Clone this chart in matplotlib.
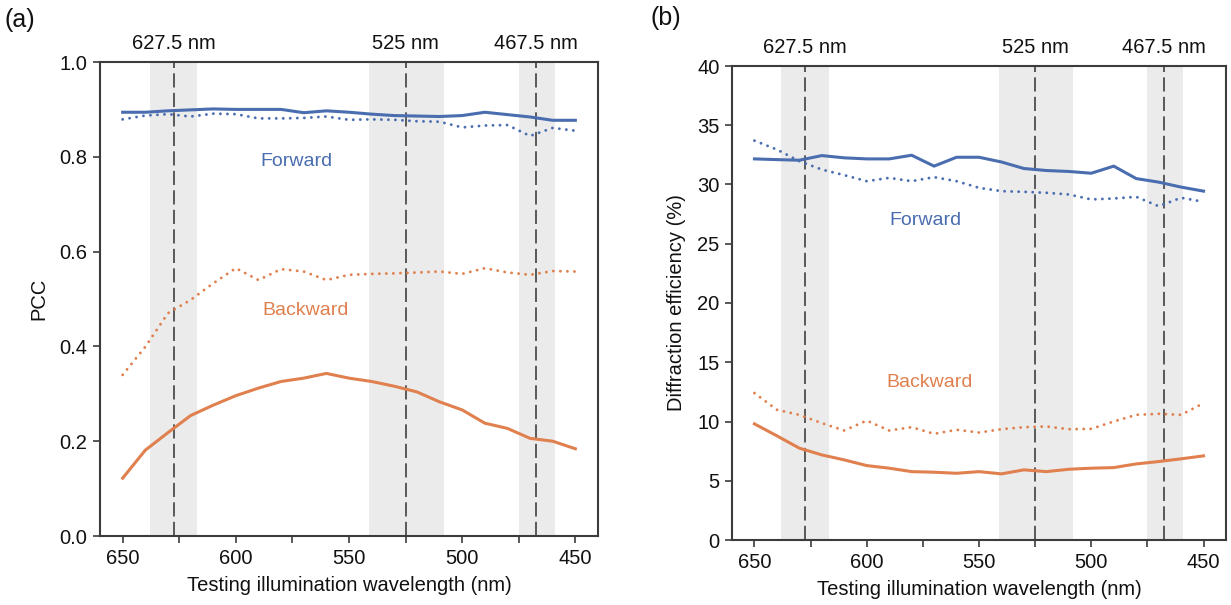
import matplotlib
matplotlib.use("Agg")
import matplotlib.pyplot as plt
import matplotlib.transforms as mtransforms

plt.rcParams['font.family'] = ['Liberation Sans', 'DejaVu Sans']

wavelength = [650, 640, 630, 620, 610, 600, 590, 580, 570, 560, 550,
              540, 530, 520, 510, 500, 490, 480, 470, 460, 450]

# Panel (a): PCC
pcc_fwd_solid = [0.894, 0.894, 0.897, 0.899, 0.901, 0.900, 0.900, 0.900, 0.893, 0.897, 0.894,
                 0.890, 0.887, 0.886, 0.885, 0.887, 0.894, 0.889, 0.884, 0.877, 0.877]
pcc_fwd_dot = [0.879, 0.887, 0.890, 0.885, 0.891, 0.890, 0.881, 0.881, 0.882, 0.885, 0.878,
               0.879, 0.878, 0.875, 0.874, 0.862, 0.866, 0.867, 0.844, 0.861, 0.855]
pcc_bwd_solid = [0.122, 0.181, 0.218, 0.254, 0.276, 0.296, 0.312, 0.326, 0.333, 0.343, 0.333,
                 0.326, 0.316, 0.304, 0.283, 0.266, 0.238, 0.227, 0.206, 0.200, 0.184]
pcc_bwd_dot = [0.340, 0.399, 0.470, 0.498, 0.533, 0.565, 0.540, 0.563, 0.558, 0.540, 0.551,
               0.553, 0.554, 0.556, 0.558, 0.553, 0.565, 0.556, 0.551, 0.559, 0.558]

# Panel (b): Diffraction efficiency (%)
de_fwd_solid = [32.16, 32.10, 32.05, 32.44, 32.25, 32.16, 32.16, 32.47, 31.55, 32.30, 32.30,
                31.90, 31.35, 31.18, 31.10, 30.95, 31.55, 30.50, 30.20, 29.78, 29.44]
de_fwd_dot = [33.70, 32.95, 31.97, 31.26, 30.79, 30.28, 30.56, 30.28, 30.62, 30.28, 29.72,
              29.44, 29.38, 29.30, 29.16, 28.74, 28.82, 28.96, 28.17, 28.88, 28.54]
de_bwd_solid = [9.80, 8.79, 7.75, 7.18, 6.76, 6.28, 6.06, 5.77, 5.72, 5.63, 5.77,
                5.58, 5.92, 5.77, 5.97, 6.06, 6.11, 6.42, 6.62, 6.85, 7.10]
de_bwd_dot = [12.40, 10.99, 10.56, 9.86, 9.24, 10.08, 9.24, 9.52, 8.96, 9.30, 9.07,
              9.35, 9.52, 9.58, 9.35, 9.38, 10.00, 10.56, 10.65, 10.56, 11.55]

marker_lines = [627.5, 525, 467.5]
marker_labels = ['627.5 nm', '525 nm', '467.5 nm']
bands = [(638, 617), (541, 508), (475, 459)]

blue = '#4a6db0'
orange = '#e0804e'
spine_col = '#3c3c3c'

fig = plt.figure(figsize=(12.31, 6.05), dpi=100)
ax1 = fig.add_axes([100 / 1231, 69 / 605, 498 / 1231, 474 / 605])
ax2 = fig.add_axes([732 / 1231, 65 / 605, 494 / 1231, 474 / 605])


def style(ax, ylim, yticks, yfmt, ylabel):
    for lo, hi in bands:
        ax.axvspan(lo, hi, color='#ebebeb', lw=0, zorder=0)
    for xv in marker_lines:
        ax.axvline(xv, color='#404040', lw=1.2, ls=(0, (8.5, 3.2)), zorder=1)
    trans = mtransforms.blended_transform_factory(ax.transData, ax.transAxes)
    for xv, lab in zip(marker_lines, marker_labels):
        ax.text(xv, 1.018, lab, transform=trans, ha='center', va='bottom', fontsize=14.5, color='#111111')
    ax.set_xlim(660, 440)
    ax.set_ylim(*ylim)
    ax.set_xticks([650, 600, 550, 500, 450])
    ax.set_xticks([625, 575, 525, 475], minor=True)
    ax.set_yticks(yticks)
    ax.set_yticklabels([yfmt.format(v) for v in yticks])
    ax.tick_params(axis='both', which='both', direction='out', length=5, width=1.2,
                   color=spine_col, labelsize=14.5, labelcolor='#111111', pad=4)
    ax.tick_params(axis='x', which='minor', length=5)
    for s in ax.spines.values():
        s.set_color(spine_col)
        s.set_linewidth(1.5)
    ax.set_xlabel('Testing illumination wavelength (nm)', fontsize=14.5, labelpad=6, color='#111111')
    ax.set_ylabel(ylabel, fontsize=14.5, labelpad=8, color='#111111')


style(ax1, (0, 1.0), [0.0, 0.2, 0.4, 0.6, 0.8, 1.0], '{:.1f}', 'PCC')
style(ax2, (0, 40), [0, 5, 10, 15, 20, 25, 30, 35, 40], '{:d}', 'Diffraction efficiency (%)')

dot_style = dict(ls=(0, (0.01, 2.4)), lw=2.1, dash_capstyle='round')

ax1.plot(wavelength, pcc_fwd_solid, color=blue, lw=2.2, zorder=3)
ax1.plot(wavelength, pcc_fwd_dot, color=blue, **dot_style, zorder=3)
ax1.plot(wavelength, pcc_bwd_solid, color=orange, lw=2.2, zorder=3)
ax1.plot(wavelength, pcc_bwd_dot, color=orange, **dot_style, zorder=3)

ax2.plot(wavelength, de_fwd_solid, color=blue, lw=2.2, zorder=3)
ax2.plot(wavelength, de_fwd_dot, color=blue, **dot_style, zorder=3)
ax2.plot(wavelength, de_bwd_solid, color=orange, lw=2.2, zorder=3)
ax2.plot(wavelength, de_bwd_dot, color=orange, **dot_style, zorder=3)

ax1.text(573, 0.79, 'Forward', color=blue, fontsize=14, ha='center', va='center')
ax1.text(569, 0.475, 'Backward', color=orange, fontsize=14, ha='center', va='center')
ax2.text(574, 27.0, 'Forward', color=blue, fontsize=14, ha='center', va='center')
ax2.text(572, 13.3, 'Backward', color=orange, fontsize=14, ha='center', va='center')

fig.text(4 / 1231, 1 - 20 / 605, '(a)', fontsize=18, ha='left', va='center', color='#111111')
fig.text(651 / 1231, 1 - 18 / 605, '(b)', fontsize=18, ha='left', va='center', color='#111111')

fig.savefig('out.png', dpi=100)
